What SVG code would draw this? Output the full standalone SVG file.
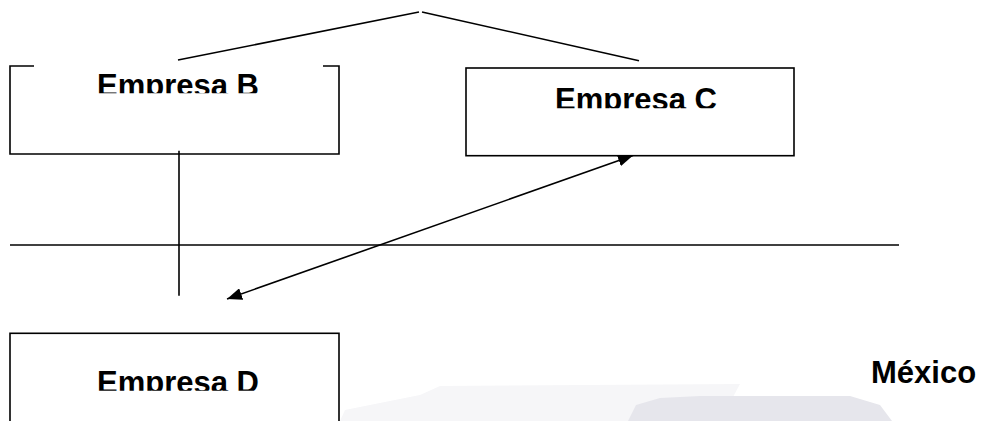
<svg xmlns="http://www.w3.org/2000/svg" width="982" height="421" viewBox="0 0 982 421">
  <style>
    .ln{stroke:#000;stroke-width:1.6;fill:none}
    .box{stroke:#000;stroke-width:1.6;fill:#fff}
    .t{font-family:"Liberation Sans",Arial,sans-serif;font-weight:bold;font-size:31px;fill:#000}
  </style>
  <defs>
    <marker id="ah" viewBox="0 0 15 12" refX="15" refY="6" markerWidth="15" markerHeight="12" markerUnits="userSpaceOnUse" orient="auto-start-reverse">
      <path d="M0,0 L15,6 L0,12 z" fill="#000"/>
    </marker>
    <clipPath id="cB"><rect x="0" y="0" width="982" height="93.3"/></clipPath>
    <clipPath id="cC"><rect x="0" y="0" width="982" height="108.3"/></clipPath>
    <clipPath id="cD"><rect x="0" y="0" width="982" height="390.7"/></clipPath>
  </defs>
  <rect width="982" height="421" fill="#fff"/>
  <g id="watermark">
    <path d="M340,421 L345,410 L420,395 L440,386 L740,384 L720,421 Z" fill="#f6f6f8"/>
    <path d="M628,421 L636,405 L660,398 L700,396 L850,396 L880,405 L892,421 Z" fill="#e6e6ec"/>
  </g>
  <g id="connectors">
    <line class="ln" x1="178" y1="60" x2="419" y2="12"/>
    <line class="ln" x1="422" y1="12" x2="639" y2="60.7"/>
    <line class="ln" x1="179" y1="150.7" x2="179" y2="295.7"/>
    <line class="ln" x1="10" y1="245" x2="899" y2="245"/>
    <line class="ln" x1="227" y1="299" x2="633" y2="155.5" marker-start="url(#ah)" marker-end="url(#ah)"/>
  </g>
  <g id="empresa-b">
    <path class="ln" d="M34,66 L10,66 L10,154 L339,154 L339,66 L323,66"/>
    <text class="t" x="97" y="95.5" clip-path="url(#cB)">Empresa B</text>
  </g>
  <g id="empresa-c">
    <rect class="box" x="466" y="68" width="328" height="87.7"/>
    <text class="t" x="555" y="110" clip-path="url(#cC)">Empresa C</text>
  </g>
  <g id="empresa-d">
    <rect class="box" x="10" y="333.3" width="329" height="100"/>
    <text class="t" x="97" y="392.5" clip-path="url(#cD)">Empresa D</text>
  </g>
  <g id="mexico">
    <text class="t" x="871" y="382.7">México</text>
  </g>
</svg>
